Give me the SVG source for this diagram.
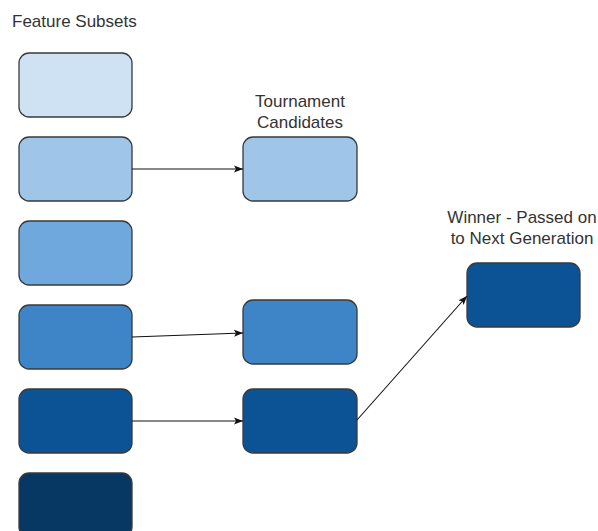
<svg xmlns="http://www.w3.org/2000/svg" width="598" height="531" viewBox="0 0 598 531">
  <style>
    .box { stroke: #3a3a3a; stroke-width: 1.3; }
    .lbl { font-family: "Liberation Sans", Arial, sans-serif; font-size: 17px; fill: #333333; }
    .conn { stroke: #111111; stroke-width: 1.1; fill: none; marker-end: url(#arr); }
  </style>
  <defs>
    <marker id="arr" markerUnits="userSpaceOnUse" markerWidth="10" markerHeight="8" refX="9" refY="4" orient="auto">
      <path d="M0,0.5 L9,4 L0,7.5 L2,4 Z" fill="#111111"/>
    </marker>
  </defs>
  <rect width="598" height="531" fill="#ffffff"/>

  <text class="lbl" x="12" y="26.5">Feature Subsets</text>

  <g id="subset1"><rect class="box" x="19" y="53" width="113" height="64" rx="10" fill="#cfe2f3"/></g>
  <g id="subset2"><rect class="box" x="19" y="137" width="113" height="64" rx="10" fill="#9fc5e8"/></g>
  <g id="subset3"><rect class="box" x="19" y="221" width="113" height="64" rx="10" fill="#6fa8dc"/></g>
  <g id="subset4"><rect class="box" x="19" y="305" width="113" height="64" rx="10" fill="#3d85c6"/></g>
  <g id="subset5"><rect class="box" x="19" y="389" width="113" height="64" rx="10" fill="#0b5394"/></g>
  <g id="subset6"><rect class="box" x="19" y="473" width="113" height="64" rx="10" fill="#073763"/></g>

  <g id="candidates-label">
    <text class="lbl" x="300" y="107" text-anchor="middle">Tournament</text>
    <text class="lbl" x="300" y="128" text-anchor="middle">Candidates</text>
  </g>
  <g id="cand1"><rect class="box" x="243" y="137" width="114" height="64" rx="10" fill="#9fc5e8"/></g>
  <g id="cand2"><rect class="box" x="243" y="300" width="114" height="64" rx="10" fill="#3d85c6"/></g>
  <g id="cand3"><rect class="box" x="243" y="389" width="114" height="64" rx="10" fill="#0b5394"/></g>

  <g id="winner-label">
    <text class="lbl" x="522" y="223" text-anchor="middle">Winner - Passed on</text>
    <text class="lbl" x="522" y="244" text-anchor="middle">to Next Generation</text>
  </g>
  <g id="winner"><rect class="box" x="467" y="263" width="113" height="64" rx="10" fill="#0b5394"/></g>

  <g id="connectors">
    <line class="conn" x1="132" y1="169" x2="243" y2="169"/>
    <line class="conn" x1="132" y1="337" x2="243" y2="333"/>
    <line class="conn" x1="132" y1="421" x2="243" y2="421"/>
    <line class="conn" x1="357" y1="420" x2="467" y2="296"/>
  </g>
</svg>
